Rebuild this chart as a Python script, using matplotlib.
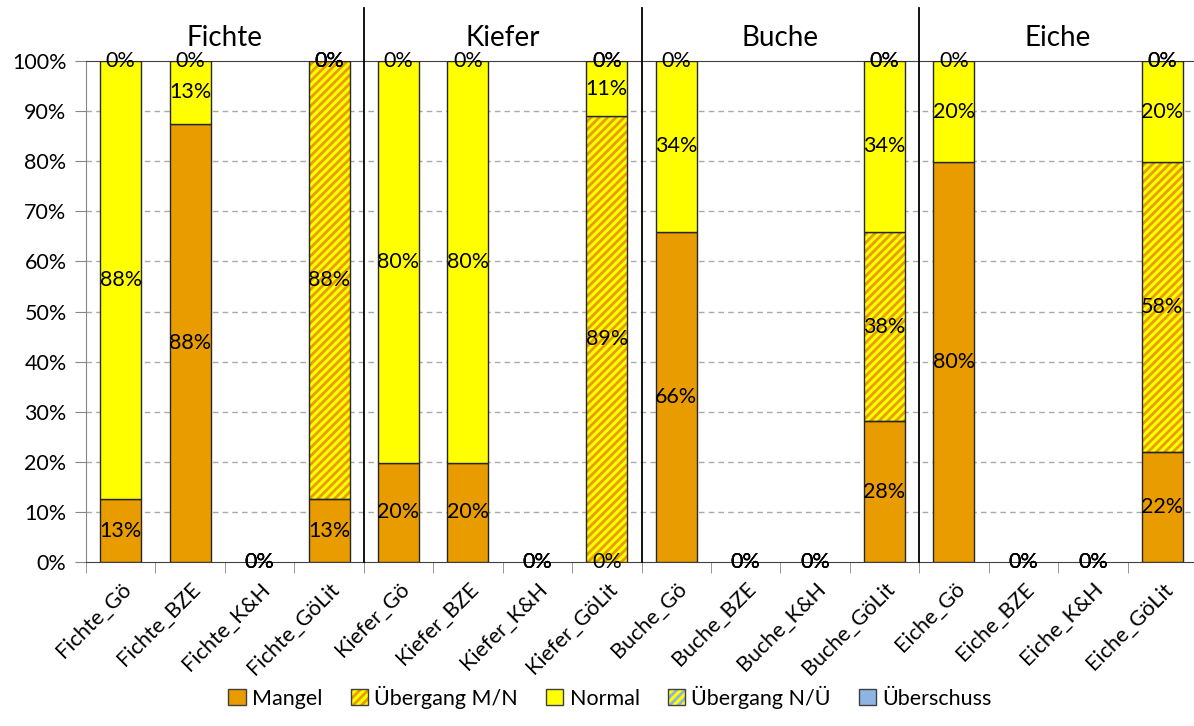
import numpy as np
import matplotlib
matplotlib.use("Agg")
import matplotlib.pyplot as plt
from matplotlib.patches import Patch

plt.rcParams["font.family"] = ["Lato", "DejaVu Sans"]
plt.rcParams["hatch.linewidth"] = 2.0

species = ["Fichte", "Kiefer", "Buche", "Eiche"]
sources = ["Gö", "BZE", "K&H", "GöLit"]
categories = [f"{s}_{q}" for s in species for q in sources]

nan = np.nan
# values in percent, NaN = no value / no label
mangel = [12.5, 87.5, 0, 12.5,
          19.8, 19.8, 0, 0,
          65.9, 0, 0, 28.1,
          79.8, 0, 0, 22.0]
uebergang_mn = [nan, nan, nan, 87.5,
                nan, nan, nan, 89.0,
                nan, nan, nan, 37.8,
                nan, nan, nan, 57.8]
normal = [87.5, 12.5, 0, 0,
          80.2, 80.2, 0, 11.0,
          34.1, 0, 0, 34.1,
          20.2, 0, 0, 20.2]
uebergang_nu = [nan, nan, nan, 0,
                nan, nan, nan, 0,
                nan, nan, nan, 0,
                nan, nan, nan, 0]
ueberschuss = [0] * 16

series = [
    ("Mangel", mangel, "#E89C00", None, None),
    ("Übergang M/N", uebergang_mn, "#FFFF00", "////", "#E89C00"),
    ("Normal", normal, "#FFFF00", None, None),
    ("Übergang N/Ü", uebergang_nu, "#FFFF00", "////", "#8DB4E2"),
    ("Überschuss", ueberschuss, "#8DB4E2", None, None),
]

W, H = 1194, 726
fig = plt.figure(figsize=(W / 100, H / 100), dpi=100)
ax = fig.add_axes([86 / W, 1 - 562 / H, (1197 - 86) / W, 501 / H])

x = np.arange(len(categories))
bw = 0.59
bottom = np.zeros(len(categories))
handles = []
for name, vals, face, hatch, hcol in series:
    v = np.array(vals, dtype=float)
    h = np.nan_to_num(v)
    m = h > 0
    if hatch:
        ax.bar(x[m], h[m], bw, bottom=bottom[m], color=face, edgecolor=hcol, hatch=hatch, linewidth=0, zorder=2)
        ax.bar(x[m], h[m], bw, bottom=bottom[m], fill=False, edgecolor="#262626", linewidth=1.0, zorder=3)
        handles.append((Patch(facecolor=face, edgecolor=hcol, hatch=hatch, linewidth=0),
                        Patch(fill=False, edgecolor="#404040", linewidth=1.0)))
    else:
        ax.bar(x[m], h[m], bw, bottom=bottom[m], color=face, edgecolor="#262626", linewidth=1.0, zorder=3)
        handles.append(Patch(facecolor=face, edgecolor="#404040", linewidth=1.0))
    for xi, b, val in zip(x, bottom, v):
        if np.isnan(val):
            continue
        ax.text(xi, b + val / 2, f"{int(val + 0.5)}%", ha="center", va="center", fontsize=15.5, zorder=5)
    bottom = bottom + h

ax.set_xlim(-0.5, len(categories) - 0.5)
ax.set_ylim(0, 100)
ax.set_yticks(np.arange(0, 101, 10))
ax.set_yticklabels([f"{t}%" for t in range(0, 101, 10)], fontsize=15.5)
ax.set_xticks(x)
ax.set_xticklabels(categories, rotation=45, ha="right", rotation_mode="anchor", fontsize=15.5)
ax.set_xticks(np.arange(-0.5, len(categories), 1), minor=True)
ax.tick_params(axis="x", which="major", length=0, pad=12)
ax.tick_params(axis="x", which="minor", length=8, color="#868686", direction="out")
ax.tick_params(axis="y", length=8, color="#868686", pad=6)

for yv in range(10, 100, 10):
    ax.axhline(yv, color="#AAAAAA", linewidth=1.0, linestyle=(0, (4, 3)), zorder=1)

ax.spines["right"].set_visible(False)
ax.spines["left"].set_color("#868686")
ax.spines["bottom"].set_color("#404040")
ax.spines["top"].set_color("#404040")

for b in [3.5, 7.5, 11.5]:
    ax.axvline(b, ymin=0, ymax=(562 - 8) / 501, color="black", linewidth=1.3, clip_on=False, zorder=4)

for i, s in enumerate(species):
    ax.text(i * 4 + 1.5, 100 * (562 - 38) / 501, s, ha="center", va="center", fontsize=20)

fig.legend(handles, [s[0] for s in series], loc="center", bbox_to_anchor=(0.511, 1 - 697 / H),
           ncol=5, frameon=False, fontsize=15.5, handlelength=0.8, handleheight=0.8,
           handletextpad=0.3, columnspacing=1.3)

fig.savefig("out.png", dpi=100)
